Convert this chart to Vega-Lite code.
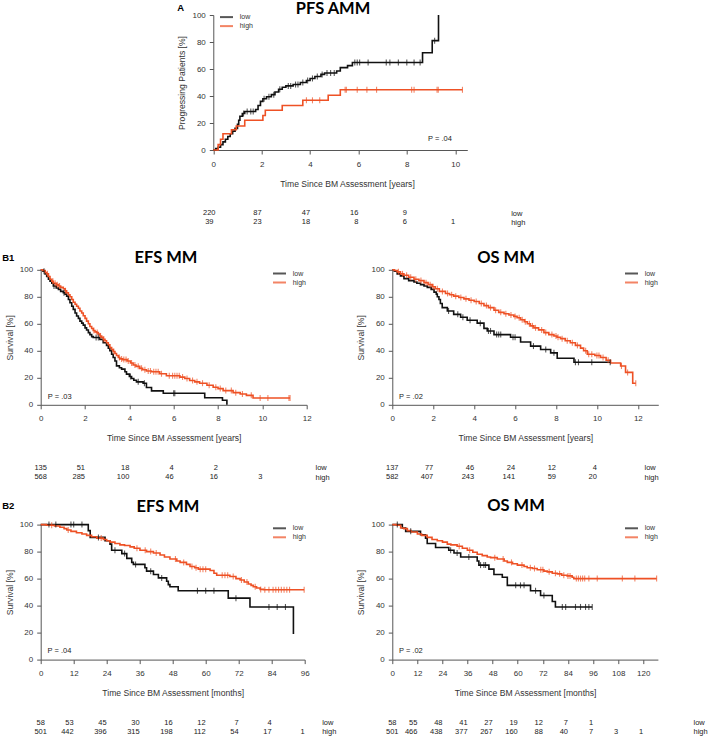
{
"$schema": "https://vega.github.io/schema/vega-lite/v6.json",
"background": "white",
"padding": {"left": 1.7, "top": 0, "right": 0, "bottom": 0},
"datasets": {
"a": [
{"g":"low","t":0,"s":0},{"g":"low","t":0.1,"s":1},{"g":"low","t":0.2,"s":2},{"g":"low","t":0.3,"s":4},{"g":"low","t":0.4,"s":6},{"g":"low","t":0.5,"s":8},{"g":"low","t":0.6,"s":10},{"g":"low","t":0.7,"s":12},{"g":"low","t":0.8,"s":14},{"g":"low","t":0.9,"s":16},{"g":"low","t":1.0,"s":19},{"g":"low","t":1.05,"s":22},{"g":"low","t":1.1,"s":25},{"g":"low","t":1.2,"s":27},{"g":"low","t":1.25,"s":27,"c":1},{"g":"low","t":1.3,"s":28.5},{"g":"low","t":1.4,"s":28.5,"c":1},{"g":"low","t":1.55,"s":28.5,"c":1},{"g":"low","t":1.65,"s":28.5,"c":1},{"g":"low","t":1.75,"s":30},{"g":"low","t":1.85,"s":33},{"g":"low","t":1.95,"s":36},{"g":"low","t":2.05,"s":38},{"g":"low","t":2.1,"s":38,"c":1},{"g":"low","t":2.2,"s":39.5},{"g":"low","t":2.3,"s":39.5,"c":1},{"g":"low","t":2.4,"s":41},{"g":"low","t":2.5,"s":41,"c":1},{"g":"low","t":2.55,"s":43},{"g":"low","t":2.7,"s":45},{"g":"low","t":2.75,"s":45,"c":1},{"g":"low","t":2.85,"s":46.5},{"g":"low","t":3.0,"s":47.5},{"g":"low","t":3.1,"s":47.5,"c":1},{"g":"low","t":3.2,"s":47.5,"c":1},{"g":"low","t":3.3,"s":48.5},{"g":"low","t":3.4,"s":48.5,"c":1},{"g":"low","t":3.5,"s":48.5,"c":1},{"g":"low","t":3.6,"s":50},{"g":"low","t":3.7,"s":50,"c":1},{"g":"low","t":3.85,"s":51.5},{"g":"low","t":3.9,"s":51.5,"c":1},{"g":"low","t":4.0,"s":53},{"g":"low","t":4.1,"s":53,"c":1},{"g":"low","t":4.2,"s":54.5},{"g":"low","t":4.3,"s":54.5,"c":1},{"g":"low","t":4.45,"s":56},{"g":"low","t":4.5,"s":56,"c":1},{"g":"low","t":4.6,"s":57},{"g":"low","t":4.7,"s":57,"c":1},{"g":"low","t":4.85,"s":57,"c":1},{"g":"low","t":5.0,"s":57,"c":1},{"g":"low","t":5.1,"s":58.5},{"g":"low","t":5.25,"s":61},{"g":"low","t":5.55,"s":62.5},{"g":"low","t":5.75,"s":64.8},{"g":"low","t":5.85,"s":64.8,"c":1},{"g":"low","t":5.95,"s":64.8,"c":1},{"g":"low","t":6.05,"s":64.8,"c":1},{"g":"low","t":6.4,"s":64.8,"c":1},{"g":"low","t":7.15,"s":64.8,"c":1},{"g":"low","t":7.3,"s":64.8,"c":1},{"g":"low","t":7.65,"s":64.8,"c":1},{"g":"low","t":8.0,"s":64.8,"c":1},{"g":"low","t":8.3,"s":64.8,"c":1},{"g":"low","t":8.55,"s":64.8,"c":1},{"g":"low","t":8.65,"s":72},{"g":"low","t":9.05,"s":81},{"g":"low","t":9.15,"s":81,"c":1},{"g":"low","t":9.31,"s":100},
{"g":"high","t":0,"s":0},{"g":"high","t":0.2,"s":4},{"g":"high","t":0.3,"s":8},{"g":"high","t":0.4,"s":12},{"g":"high","t":0.75,"s":15},{"g":"high","t":0.95,"s":17.8},{"g":"high","t":1.3,"s":22},{"g":"high","t":2.05,"s":25.6},{"g":"high","t":2.15,"s":29.5},{"g":"high","t":2.85,"s":33},{"g":"high","t":3.7,"s":36.8},{"g":"high","t":3.85,"s":36.8,"c":1},{"g":"high","t":4.1,"s":36.8,"c":1},{"g":"high","t":4.4,"s":36.8,"c":1},{"g":"high","t":4.75,"s":40.6},{"g":"high","t":5.25,"s":44.6},{"g":"high","t":5.45,"s":44.6,"c":1},{"g":"high","t":5.5,"s":44.6,"c":1},{"g":"high","t":5.95,"s":44.6,"c":1},{"g":"high","t":6.35,"s":44.6,"c":1},{"g":"high","t":6.75,"s":44.6,"c":1},{"g":"high","t":8.2,"s":44.6,"c":1},{"g":"high","t":8.3,"s":44.6,"c":1},{"g":"high","t":9.25,"s":44.6,"c":1},{"g":"high","t":9.3,"s":44.6,"c":1},{"g":"high","t":10.3,"s":44.6,"c":1}
],
"b1l": [
{"g":"low","t":0,"s":100},{"g":"low","t":0.1,"s":99},{"g":"low","t":0.15,"s":99,"c":1},{"g":"low","t":0.2,"s":97},{"g":"low","t":0.27,"s":95},{"g":"low","t":0.35,"s":93},{"g":"low","t":0.42,"s":91.6},{"g":"low","t":0.5,"s":90},{"g":"low","t":0.57,"s":88},{"g":"low","t":0.6,"s":88,"c":1},{"g":"low","t":0.7,"s":86.5},{"g":"low","t":0.8,"s":85.5},{"g":"low","t":0.9,"s":84},{"g":"low","t":1.02,"s":83},{"g":"low","t":1.05,"s":83,"c":1},{"g":"low","t":1.1,"s":82},{"g":"low","t":1.17,"s":80.5},{"g":"low","t":1.25,"s":78},{"g":"low","t":1.32,"s":75.6},{"g":"low","t":1.4,"s":73},{"g":"low","t":1.47,"s":70.7},{"g":"low","t":1.55,"s":68},{"g":"low","t":1.62,"s":65.8},{"g":"low","t":1.7,"s":64},{"g":"low","t":1.77,"s":62},{"g":"low","t":1.85,"s":60.5},{"g":"low","t":1.92,"s":59},{"g":"low","t":2.0,"s":57},{"g":"low","t":2.07,"s":55.4},{"g":"low","t":2.15,"s":53.5},{"g":"low","t":2.22,"s":52},{"g":"low","t":2.3,"s":50.5},{"g":"low","t":2.37,"s":49.8},{"g":"low","t":2.5,"s":49.8,"c":1},{"g":"low","t":2.6,"s":49.8,"c":1},{"g":"low","t":2.67,"s":48.5},{"g":"low","t":2.82,"s":46},{"g":"low","t":2.97,"s":44},{"g":"low","t":3.05,"s":42},{"g":"low","t":3.12,"s":40},{"g":"low","t":3.2,"s":37.5},{"g":"low","t":3.27,"s":35},{"g":"low","t":3.35,"s":32.5},{"g":"low","t":3.42,"s":28.8},{"g":"low","t":3.55,"s":27.5},{"g":"low","t":3.65,"s":26.4},{"g":"low","t":3.8,"s":24.5},{"g":"low","t":3.87,"s":22.7},{"g":"low","t":4.0,"s":21},{"g":"low","t":4.05,"s":21,"c":1},{"g":"low","t":4.1,"s":19.5},{"g":"low","t":4.2,"s":18.2},{"g":"low","t":4.32,"s":17},{"g":"low","t":4.4,"s":17,"c":1},{"g":"low","t":4.62,"s":16},{"g":"low","t":4.68,"s":16,"c":1},{"g":"low","t":4.77,"s":12.8},{"g":"low","t":5.0,"s":10.3},{"g":"low","t":5.53,"s":8.6},{"g":"low","t":6.0,"s":8.6,"c":1},{"g":"low","t":6.05,"s":8.6,"c":1},{"g":"low","t":7.4,"s":5.2},{"g":"low","t":8.2,"s":3.4},{"g":"low","t":8.4,"s":0},
{"g":"high","t":0,"s":100},{"g":"high","t":0.1,"s":99.5},{"g":"high","t":0.2,"s":98},{"g":"high","t":0.27,"s":97},{"g":"high","t":0.3,"s":97,"c":1},{"g":"high","t":0.35,"s":95},{"g":"high","t":0.42,"s":93},{"g":"high","t":0.5,"s":91.5},{"g":"high","t":0.55,"s":91.5,"c":1},{"g":"high","t":0.57,"s":90},{"g":"high","t":0.65,"s":90,"c":1},{"g":"high","t":0.7,"s":89},{"g":"high","t":0.75,"s":89,"c":1},{"g":"high","t":0.8,"s":88},{"g":"high","t":0.85,"s":88,"c":1},{"g":"high","t":0.9,"s":87},{"g":"high","t":1.02,"s":86},{"g":"high","t":1.1,"s":84.5},{"g":"high","t":1.12,"s":84.5,"c":1},{"g":"high","t":1.17,"s":83},{"g":"high","t":1.25,"s":81.5},{"g":"high","t":1.32,"s":80},{"g":"high","t":1.4,"s":78},{"g":"high","t":1.47,"s":76},{"g":"high","t":1.55,"s":74.5},{"g":"high","t":1.62,"s":73},{"g":"high","t":1.7,"s":71.5},{"g":"high","t":1.77,"s":69.5},{"g":"high","t":1.85,"s":68},{"g":"high","t":1.92,"s":66},{"g":"high","t":2.0,"s":64},{"g":"high","t":2.07,"s":62},{"g":"high","t":2.15,"s":60},{"g":"high","t":2.22,"s":58},{"g":"high","t":2.3,"s":56.5},{"g":"high","t":2.37,"s":55},{"g":"high","t":2.4,"s":55,"c":1},{"g":"high","t":2.45,"s":54},{"g":"high","t":2.52,"s":53.5},{"g":"high","t":2.55,"s":53.5,"c":1},{"g":"high","t":2.6,"s":52.5},{"g":"high","t":2.67,"s":51},{"g":"high","t":2.7,"s":51,"c":1},{"g":"high","t":2.75,"s":50},{"g":"high","t":2.82,"s":48.5},{"g":"high","t":2.85,"s":48.5,"c":1},{"g":"high","t":2.9,"s":47.5},{"g":"high","t":2.97,"s":46},{"g":"high","t":3.05,"s":44.5},{"g":"high","t":3.12,"s":42.5},{"g":"high","t":3.2,"s":41},{"g":"high","t":3.27,"s":39.5},{"g":"high","t":3.3,"s":39.5,"c":1},{"g":"high","t":3.35,"s":38},{"g":"high","t":3.42,"s":36.5},{"g":"high","t":3.5,"s":35},{"g":"high","t":3.55,"s":35,"c":1},{"g":"high","t":3.57,"s":34},{"g":"high","t":3.65,"s":34,"c":1},{"g":"high","t":3.7,"s":33.5},{"g":"high","t":3.75,"s":33.5,"c":1},{"g":"high","t":3.85,"s":33.5,"c":1},{"g":"high","t":3.9,"s":32.5},{"g":"high","t":3.95,"s":32.5,"c":1},{"g":"high","t":4.05,"s":31},{"g":"high","t":4.1,"s":31,"c":1},{"g":"high","t":4.17,"s":29.5},{"g":"high","t":4.25,"s":29.5,"c":1},{"g":"high","t":4.3,"s":28.5},{"g":"high","t":4.4,"s":28.5,"c":1},{"g":"high","t":4.47,"s":27},{"g":"high","t":4.55,"s":27,"c":1},{"g":"high","t":4.6,"s":26},{"g":"high","t":4.7,"s":26,"c":1},{"g":"high","t":4.77,"s":25},{"g":"high","t":4.85,"s":25,"c":1},{"g":"high","t":4.95,"s":25,"c":1},{"g":"high","t":5.0,"s":24.5},{"g":"high","t":5.1,"s":24.5,"c":1},{"g":"high","t":5.2,"s":24.5,"c":1},{"g":"high","t":5.3,"s":24.5,"c":1},{"g":"high","t":5.37,"s":23},{"g":"high","t":5.45,"s":23,"c":1},{"g":"high","t":5.67,"s":21.5},{"g":"high","t":5.8,"s":21.5,"c":1},{"g":"high","t":5.95,"s":21.5,"c":1},{"g":"high","t":6.05,"s":21.5,"c":1},{"g":"high","t":6.15,"s":21.5,"c":1},{"g":"high","t":6.25,"s":21.5,"c":1},{"g":"high","t":6.28,"s":20.5},{"g":"high","t":6.4,"s":20.5,"c":1},{"g":"high","t":6.5,"s":19.5},{"g":"high","t":6.6,"s":19.5,"c":1},{"g":"high","t":6.72,"s":18},{"g":"high","t":6.85,"s":18,"c":1},{"g":"high","t":6.95,"s":17},{"g":"high","t":7.05,"s":17,"c":1},{"g":"high","t":7.17,"s":16},{"g":"high","t":7.3,"s":16,"c":1},{"g":"high","t":7.5,"s":14.5},{"g":"high","t":7.6,"s":14.5,"c":1},{"g":"high","t":7.78,"s":13},{"g":"high","t":7.9,"s":13,"c":1},{"g":"high","t":8.0,"s":12},{"g":"high","t":8.1,"s":12,"c":1},{"g":"high","t":8.23,"s":10.5},{"g":"high","t":8.35,"s":10.5,"c":1},{"g":"high","t":8.6,"s":10.5,"c":1},{"g":"high","t":8.68,"s":9},{"g":"high","t":8.8,"s":9,"c":1},{"g":"high","t":9.0,"s":8},{"g":"high","t":9.1,"s":8,"c":1},{"g":"high","t":9.28,"s":7},{"g":"high","t":9.5,"s":7,"c":1},{"g":"high","t":9.58,"s":5},{"g":"high","t":9.9,"s":5,"c":1},{"g":"high","t":10.25,"s":5,"c":1},{"g":"high","t":11.2,"s":5,"c":1},{"g":"high","t":11.25,"s":5,"c":1}
],
"b1r": [
{"g":"low","t":0,"s":100},{"g":"low","t":0.1,"s":99},{"g":"low","t":0.24,"s":97},{"g":"low","t":0.4,"s":95.5},{"g":"low","t":0.57,"s":93.5},{"g":"low","t":0.8,"s":92},{"g":"low","t":1.06,"s":91},{"g":"low","t":1.2,"s":90},{"g":"low","t":1.38,"s":89},{"g":"low","t":1.55,"s":88},{"g":"low","t":1.71,"s":87},{"g":"low","t":1.9,"s":85.5},{"g":"low","t":2.04,"s":83.5},{"g":"low","t":2.15,"s":82},{"g":"low","t":2.2,"s":80},{"g":"low","t":2.28,"s":78},{"g":"low","t":2.35,"s":75},{"g":"low","t":2.44,"s":72},{"g":"low","t":2.69,"s":69.5},{"g":"low","t":2.75,"s":69.5,"c":1},{"g":"low","t":3.0,"s":67},{"g":"low","t":3.2,"s":67,"c":1},{"g":"low","t":3.34,"s":64.8},{"g":"low","t":3.45,"s":64.8,"c":1},{"g":"low","t":3.66,"s":62.6},{"g":"low","t":3.8,"s":62.6,"c":1},{"g":"low","t":4.15,"s":60.5},{"g":"low","t":4.3,"s":60.5,"c":1},{"g":"low","t":4.48,"s":56.6},{"g":"low","t":4.64,"s":54.7},{"g":"low","t":4.7,"s":54.7,"c":1},{"g":"low","t":4.8,"s":54.7,"c":1},{"g":"low","t":4.97,"s":52},{"g":"low","t":5.1,"s":52,"c":1},{"g":"low","t":5.2,"s":52,"c":1},{"g":"low","t":5.3,"s":52,"c":1},{"g":"low","t":5.78,"s":50},{"g":"low","t":5.9,"s":50,"c":1},{"g":"low","t":6.0,"s":50,"c":1},{"g":"low","t":6.27,"s":46.5},{"g":"low","t":6.76,"s":43.5},{"g":"low","t":6.9,"s":43.5,"c":1},{"g":"low","t":7.25,"s":41},{"g":"low","t":7.5,"s":41,"c":1},{"g":"low","t":7.74,"s":38.5},{"g":"low","t":7.9,"s":38.5,"c":1},{"g":"low","t":8.06,"s":34.5},{"g":"low","t":8.88,"s":31.5},{"g":"low","t":8.95,"s":31.5,"c":1},{"g":"low","t":9.1,"s":31.5,"c":1},{"g":"low","t":9.75,"s":31.5,"c":1},{"g":"low","t":10.65,"s":31.5,"c":1},
{"g":"high","t":0,"s":100},{"g":"high","t":0.1,"s":99.5},{"g":"high","t":0.24,"s":98.5},{"g":"high","t":0.3,"s":98.5,"c":1},{"g":"high","t":0.4,"s":97},{"g":"high","t":0.5,"s":97,"c":1},{"g":"high","t":0.57,"s":96},{"g":"high","t":0.7,"s":96,"c":1},{"g":"high","t":0.8,"s":94.5},{"g":"high","t":0.9,"s":94.5,"c":1},{"g":"high","t":1.06,"s":93},{"g":"high","t":1.15,"s":93,"c":1},{"g":"high","t":1.3,"s":92},{"g":"high","t":1.4,"s":92,"c":1},{"g":"high","t":1.55,"s":90.5},{"g":"high","t":1.65,"s":90.5,"c":1},{"g":"high","t":1.75,"s":89},{"g":"high","t":1.85,"s":89,"c":1},{"g":"high","t":1.95,"s":87.5},{"g":"high","t":2.0,"s":87.5,"c":1},{"g":"high","t":2.1,"s":86},{"g":"high","t":2.2,"s":86,"c":1},{"g":"high","t":2.3,"s":84},{"g":"high","t":2.45,"s":84,"c":1},{"g":"high","t":2.6,"s":82.5},{"g":"high","t":2.7,"s":82.5,"c":1},{"g":"high","t":2.8,"s":81.5},{"g":"high","t":2.9,"s":81.5,"c":1},{"g":"high","t":3.0,"s":80.5},{"g":"high","t":3.1,"s":80.5,"c":1},{"g":"high","t":3.25,"s":79.5},{"g":"high","t":3.35,"s":79.5,"c":1},{"g":"high","t":3.5,"s":78.5},{"g":"high","t":3.6,"s":78.5,"c":1},{"g":"high","t":3.75,"s":77.5},{"g":"high","t":3.85,"s":77.5,"c":1},{"g":"high","t":4.0,"s":76.5},{"g":"high","t":4.1,"s":76.5,"c":1},{"g":"high","t":4.25,"s":75},{"g":"high","t":4.35,"s":75,"c":1},{"g":"high","t":4.48,"s":73.5},{"g":"high","t":4.6,"s":73.5,"c":1},{"g":"high","t":4.7,"s":72},{"g":"high","t":4.8,"s":72,"c":1},{"g":"high","t":4.97,"s":70},{"g":"high","t":5.05,"s":70,"c":1},{"g":"high","t":5.2,"s":68.5},{"g":"high","t":5.3,"s":68.5,"c":1},{"g":"high","t":5.46,"s":67.5},{"g":"high","t":5.55,"s":67.5,"c":1},{"g":"high","t":5.7,"s":66.5},{"g":"high","t":5.8,"s":66.5,"c":1},{"g":"high","t":5.94,"s":65.5},{"g":"high","t":6.0,"s":65.5,"c":1},{"g":"high","t":6.1,"s":64.5},{"g":"high","t":6.2,"s":64.5,"c":1},{"g":"high","t":6.27,"s":63},{"g":"high","t":6.35,"s":63,"c":1},{"g":"high","t":6.45,"s":61.5},{"g":"high","t":6.5,"s":61.5,"c":1},{"g":"high","t":6.6,"s":60},{"g":"high","t":6.7,"s":60,"c":1},{"g":"high","t":6.75,"s":58.5},{"g":"high","t":6.85,"s":58.5,"c":1},{"g":"high","t":6.92,"s":57},{"g":"high","t":7.0,"s":57,"c":1},{"g":"high","t":7.15,"s":55.5},{"g":"high","t":7.3,"s":55.5,"c":1},{"g":"high","t":7.41,"s":53.5},{"g":"high","t":7.5,"s":53.5,"c":1},{"g":"high","t":7.65,"s":52},{"g":"high","t":7.8,"s":52,"c":1},{"g":"high","t":7.9,"s":51},{"g":"high","t":8.0,"s":51,"c":1},{"g":"high","t":8.05,"s":50},{"g":"high","t":8.1,"s":50,"c":1},{"g":"high","t":8.22,"s":49},{"g":"high","t":8.3,"s":49,"c":1},{"g":"high","t":8.45,"s":47.5},{"g":"high","t":8.55,"s":47.5,"c":1},{"g":"high","t":8.7,"s":46},{"g":"high","t":8.8,"s":46,"c":1},{"g":"high","t":8.95,"s":44},{"g":"high","t":9.05,"s":44,"c":1},{"g":"high","t":9.2,"s":42},{"g":"high","t":9.35,"s":40},{"g":"high","t":9.45,"s":40,"c":1},{"g":"high","t":9.53,"s":37.5},{"g":"high","t":9.6,"s":37.5,"c":1},{"g":"high","t":9.75,"s":37.5,"c":1},{"g":"high","t":9.9,"s":36.5},{"g":"high","t":10.0,"s":36.5,"c":1},{"g":"high","t":10.1,"s":36.5,"c":1},{"g":"high","t":10.18,"s":35},{"g":"high","t":10.3,"s":35,"c":1},{"g":"high","t":10.45,"s":33},{"g":"high","t":10.55,"s":33,"c":1},{"g":"high","t":10.67,"s":31},{"g":"high","t":11.16,"s":28.7},{"g":"high","t":11.2,"s":28.7,"c":1},{"g":"high","t":11.4,"s":24},{"g":"high","t":11.5,"s":24,"c":1},{"g":"high","t":11.75,"s":16},{"g":"high","t":11.9,"s":16,"c":1}
],
"b2l": [
{"g":"low","t":0,"s":100},{"g":"low","t":3,"s":100,"c":1},{"g":"low","t":5.5,"s":100,"c":1},{"g":"low","t":11,"s":100,"c":1},{"g":"low","t":12,"s":100,"c":1},{"g":"low","t":15,"s":100,"c":1},{"g":"low","t":17.3,"s":95.5},{"g":"low","t":18,"s":90.5},{"g":"low","t":21,"s":90.5,"c":1},{"g":"low","t":23.4,"s":88},{"g":"low","t":25.2,"s":85.5},{"g":"low","t":25.8,"s":81},{"g":"low","t":27,"s":81,"c":1},{"g":"low","t":29.5,"s":78.5},{"g":"low","t":30.5,"s":78.5,"c":1},{"g":"low","t":31.3,"s":75},{"g":"low","t":33.1,"s":72},{"g":"low","t":33.7,"s":70.5},{"g":"low","t":34.5,"s":70.5,"c":1},{"g":"low","t":37.9,"s":68},{"g":"low","t":38.5,"s":65.5},{"g":"low","t":40,"s":65.5,"c":1},{"g":"low","t":41,"s":63},{"g":"low","t":42.8,"s":60.5},{"g":"low","t":44,"s":60.5,"c":1},{"g":"low","t":45.8,"s":58},{"g":"low","t":46.4,"s":55.5},{"g":"low","t":47,"s":54},{"g":"low","t":50,"s":51},{"g":"low","t":57,"s":51,"c":1},{"g":"low","t":60,"s":51,"c":1},{"g":"low","t":63,"s":51,"c":1},{"g":"low","t":68.2,"s":45.5},{"g":"low","t":71,"s":45.5,"c":1},{"g":"low","t":76.1,"s":39},{"g":"low","t":83,"s":39,"c":1},{"g":"low","t":86,"s":39,"c":1},{"g":"low","t":89,"s":39,"c":1},{"g":"low","t":91.9,"s":19},
{"g":"high","t":0,"s":100},{"g":"high","t":2,"s":99.5},{"g":"high","t":4,"s":99.5,"c":1},{"g":"high","t":5,"s":99},{"g":"high","t":7,"s":98},{"g":"high","t":8.5,"s":97},{"g":"high","t":9.5,"s":96},{"g":"high","t":10,"s":96,"c":1},{"g":"high","t":11,"s":95},{"g":"high","t":13,"s":94},{"g":"high","t":15,"s":93},{"g":"high","t":16.7,"s":92},{"g":"high","t":18.5,"s":91},{"g":"high","t":20.4,"s":90},{"g":"high","t":22,"s":90,"c":1},{"g":"high","t":22.8,"s":89},{"g":"high","t":24,"s":88},{"g":"high","t":25.2,"s":87},{"g":"high","t":27,"s":86},{"g":"high","t":28.8,"s":85},{"g":"high","t":30.5,"s":84.5},{"g":"high","t":32.5,"s":83.5},{"g":"high","t":34,"s":82.5},{"g":"high","t":35,"s":82.5,"c":1},{"g":"high","t":36.1,"s":81},{"g":"high","t":38,"s":81,"c":1},{"g":"high","t":38.5,"s":80},{"g":"high","t":40,"s":80,"c":1},{"g":"high","t":41,"s":79},{"g":"high","t":42,"s":79,"c":1},{"g":"high","t":43.4,"s":77.5},{"g":"high","t":45,"s":76},{"g":"high","t":47,"s":74.5},{"g":"high","t":49,"s":74.5,"c":1},{"g":"high","t":49.5,"s":73},{"g":"high","t":50.7,"s":72},{"g":"high","t":52,"s":72,"c":1},{"g":"high","t":53,"s":70.5},{"g":"high","t":54.3,"s":69},{"g":"high","t":55,"s":69,"c":1},{"g":"high","t":56,"s":68},{"g":"high","t":56.5,"s":68,"c":1},{"g":"high","t":57.3,"s":67},{"g":"high","t":58,"s":67,"c":1},{"g":"high","t":59,"s":67,"c":1},{"g":"high","t":60,"s":67,"c":1},{"g":"high","t":61.6,"s":66},{"g":"high","t":63,"s":64},{"g":"high","t":64,"s":62.5},{"g":"high","t":66,"s":62.5,"c":1},{"g":"high","t":67,"s":62.5,"c":1},{"g":"high","t":68,"s":62.5,"c":1},{"g":"high","t":68.8,"s":61.5},{"g":"high","t":70,"s":61.5,"c":1},{"g":"high","t":71,"s":60},{"g":"high","t":72.5,"s":59},{"g":"high","t":73,"s":59,"c":1},{"g":"high","t":74,"s":57.5},{"g":"high","t":75,"s":57.5,"c":1},{"g":"high","t":75.5,"s":56},{"g":"high","t":76.5,"s":55},{"g":"high","t":77.3,"s":54},{"g":"high","t":78,"s":54,"c":1},{"g":"high","t":78.5,"s":53},{"g":"high","t":79.8,"s":52},{"g":"high","t":80,"s":52,"c":1},{"g":"high","t":81,"s":51.7},{"g":"high","t":81.5,"s":51.7,"c":1},{"g":"high","t":83,"s":51.7,"c":1},{"g":"high","t":84.5,"s":51.7,"c":1},{"g":"high","t":85.5,"s":51.7,"c":1},{"g":"high","t":86.5,"s":51.7,"c":1},{"g":"high","t":87.5,"s":51.7,"c":1},{"g":"high","t":88.5,"s":51.7,"c":1},{"g":"high","t":89.5,"s":51.7,"c":1},{"g":"high","t":90.5,"s":51.7,"c":1},{"g":"high","t":95.8,"s":51.7,"c":1}
],
"b2r": [
{"g":"low","t":0,"s":100},{"g":"low","t":2.4,"s":100,"c":1},{"g":"low","t":4.8,"s":97.5},{"g":"low","t":6.4,"s":95},{"g":"low","t":8.8,"s":95,"c":1},{"g":"low","t":13.5,"s":92.5},{"g":"low","t":15.9,"s":90},{"g":"low","t":16.7,"s":86},{"g":"low","t":20.7,"s":83},{"g":"low","t":27,"s":81},{"g":"low","t":27.9,"s":81,"c":1},{"g":"low","t":29.5,"s":79},{"g":"low","t":31,"s":79,"c":1},{"g":"low","t":32.7,"s":76},{"g":"low","t":36.6,"s":76,"c":1},{"g":"low","t":40.6,"s":73},{"g":"low","t":41.4,"s":70},{"g":"low","t":42.2,"s":70,"c":1},{"g":"low","t":43.8,"s":70,"c":1},{"g":"low","t":44.6,"s":70,"c":1},{"g":"low","t":46.2,"s":67},{"g":"low","t":48.6,"s":63},{"g":"low","t":52.6,"s":61},{"g":"low","t":55,"s":55},{"g":"low","t":59,"s":55,"c":1},{"g":"low","t":61.3,"s":55,"c":1},{"g":"low","t":63,"s":55,"c":1},{"g":"low","t":66.1,"s":51},{"g":"low","t":68.5,"s":51,"c":1},{"g":"low","t":70.9,"s":47.5},{"g":"low","t":72.5,"s":47.5,"c":1},{"g":"low","t":76.5,"s":43},{"g":"low","t":78,"s":39},{"g":"low","t":81.3,"s":39,"c":1},{"g":"low","t":82.9,"s":39,"c":1},{"g":"low","t":87.6,"s":39,"c":1},{"g":"low","t":90,"s":39,"c":1},{"g":"low","t":92.4,"s":39,"c":1},{"g":"low","t":94,"s":39,"c":1},{"g":"low","t":95.6,"s":39,"c":1},
{"g":"high","t":0,"s":100},{"g":"high","t":2,"s":99.5},{"g":"high","t":4,"s":97.5},{"g":"high","t":5.5,"s":97},{"g":"high","t":7.2,"s":95.5},{"g":"high","t":9,"s":94.5},{"g":"high","t":12,"s":93},{"g":"high","t":14,"s":92},{"g":"high","t":16.7,"s":90.5},{"g":"high","t":19,"s":89},{"g":"high","t":21.5,"s":88},{"g":"high","t":24,"s":87},{"g":"high","t":26.3,"s":85.5},{"g":"high","t":28,"s":85},{"g":"high","t":31,"s":84},{"g":"high","t":32,"s":84,"c":1},{"g":"high","t":33.5,"s":82.5},{"g":"high","t":35.9,"s":81},{"g":"high","t":37,"s":81,"c":1},{"g":"high","t":38.5,"s":79.5},{"g":"high","t":40.6,"s":78},{"g":"high","t":43,"s":77},{"g":"high","t":45.4,"s":76},{"g":"high","t":47,"s":75.5},{"g":"high","t":49,"s":75.5,"c":1},{"g":"high","t":50.2,"s":74.5},{"g":"high","t":53,"s":74.5,"c":1},{"g":"high","t":53.5,"s":73},{"g":"high","t":55,"s":72},{"g":"high","t":57,"s":72,"c":1},{"g":"high","t":57.5,"s":71},{"g":"high","t":59.8,"s":70},{"g":"high","t":62,"s":70,"c":1},{"g":"high","t":63,"s":69},{"g":"high","t":64.5,"s":68},{"g":"high","t":66,"s":68,"c":1},{"g":"high","t":67,"s":67.5},{"g":"high","t":68,"s":67.5,"c":1},{"g":"high","t":69.3,"s":66.5},{"g":"high","t":71,"s":66.5,"c":1},{"g":"high","t":72,"s":66.5,"c":1},{"g":"high","t":72.5,"s":65.5},{"g":"high","t":74.1,"s":65},{"g":"high","t":75,"s":65,"c":1},{"g":"high","t":76.5,"s":64},{"g":"high","t":78,"s":64,"c":1},{"g":"high","t":78.9,"s":63.5},{"g":"high","t":80,"s":63.5,"c":1},{"g":"high","t":81,"s":62.5},{"g":"high","t":82,"s":62.5,"c":1},{"g":"high","t":83.6,"s":62},{"g":"high","t":84,"s":62,"c":1},{"g":"high","t":85,"s":62,"c":1},{"g":"high","t":86,"s":61},{"g":"high","t":86.8,"s":60},{"g":"high","t":88,"s":60,"c":1},{"g":"high","t":89,"s":60,"c":1},{"g":"high","t":90,"s":60,"c":1},{"g":"high","t":91,"s":60,"c":1},{"g":"high","t":92,"s":60,"c":1},{"g":"high","t":94,"s":60,"c":1},{"g":"high","t":98,"s":60,"c":1},{"g":"high","t":110,"s":60,"c":1},{"g":"high","t":116,"s":60,"c":1},{"g":"high","t":126.4,"s":60,"c":1}
],
"ra": [{"g":"low","t":0,"n":"220"},{"g":"low","t":2,"n":"87"},{"g":"low","t":4,"n":"47"},{"g":"low","t":6,"n":"16"},{"g":"low","t":8,"n":"9"},{"g":"high","t":0,"n":"39"},{"g":"high","t":2,"n":"23"},{"g":"high","t":4,"n":"18"},{"g":"high","t":6,"n":"8"},{"g":"high","t":8,"n":"6"},{"g":"high","t":10,"n":"1"}],
"rb1l": [{"g":"low","t":0,"n":"135"},{"g":"low","t":2,"n":"51"},{"g":"low","t":4,"n":"18"},{"g":"low","t":6,"n":"4"},{"g":"low","t":8,"n":"2"},{"g":"high","t":0,"n":"568"},{"g":"high","t":2,"n":"285"},{"g":"high","t":4,"n":"100"},{"g":"high","t":6,"n":"46"},{"g":"high","t":8,"n":"16"},{"g":"high","t":10,"n":"3"}],
"rb1r": [{"g":"low","t":0,"n":"137"},{"g":"low","t":2,"n":"77"},{"g":"low","t":4,"n":"46"},{"g":"low","t":6,"n":"24"},{"g":"low","t":8,"n":"12"},{"g":"low","t":10,"n":"4"},{"g":"high","t":0,"n":"582"},{"g":"high","t":2,"n":"407"},{"g":"high","t":4,"n":"243"},{"g":"high","t":6,"n":"141"},{"g":"high","t":8,"n":"59"},{"g":"high","t":10,"n":"20"}],
"rb2l": [{"g":"low","t":0,"n":"58"},{"g":"low","t":12,"n":"53"},{"g":"low","t":24,"n":"45"},{"g":"low","t":36,"n":"30"},{"g":"low","t":48,"n":"16"},{"g":"low","t":60,"n":"12"},{"g":"low","t":72,"n":"7"},{"g":"low","t":84,"n":"4"},{"g":"high","t":0,"n":"501"},{"g":"high","t":12,"n":"442"},{"g":"high","t":24,"n":"396"},{"g":"high","t":36,"n":"315"},{"g":"high","t":48,"n":"198"},{"g":"high","t":60,"n":"112"},{"g":"high","t":72,"n":"54"},{"g":"high","t":84,"n":"17"},{"g":"high","t":96,"n":"1"}],
"rb2r": [{"g":"low","t":0,"n":"58"},{"g":"low","t":12,"n":"55"},{"g":"low","t":24,"n":"48"},{"g":"low","t":36,"n":"41"},{"g":"low","t":48,"n":"27"},{"g":"low","t":60,"n":"19"},{"g":"low","t":72,"n":"12"},{"g":"low","t":84,"n":"7"},{"g":"low","t":96,"n":"1"},{"g":"high","t":0,"n":"501"},{"g":"high","t":12,"n":"466"},{"g":"high","t":24,"n":"438"},{"g":"high","t":36,"n":"377"},{"g":"high","t":48,"n":"267"},{"g":"high","t":60,"n":"160"},{"g":"high","t":72,"n":"88"},{"g":"high","t":84,"n":"40"},{"g":"high","t":96,"n":"7"},{"g":"high","t":108,"n":"3"},{"g":"high","t":120,"n":"1"}]
},
"columns": 2,
"bounds": "flush",
"align": "none",
"spacing": {"row": 119.8, "column": 85.6},
"resolve": {"scale": {"color": "independent"}, "legend": {"color": "independent"}},
"concat": [
{
"width": 266, "height": 135,
"title": {"text": "PFS AMM", "anchor": "middle", "frame": "group", "dx": 159.3, "dy": 28, "offset": 0, "baseline": "alphabetic", "font": "Lato", "fontSize": 16.5, "fontWeight": "bold", "color": "#000"},
"resolve": {"scale": {"x": "independent", "y": "independent"}},
"layer": [
{
"encoding": {
"x": {"field": "t", "type": "quantitative", "scale": {"domain": [0, 10.5], "range": [172.6, 426.6], "nice": false, "zero": false}, "axis": {"values": [0, 2, 4, 6, 8, 10], "title": "Time Since BM Assessment [years]", "titleX": 306.3}},
"y": {"field": "s", "type": "quantitative", "scale": {"domain": [0, 100], "nice": false}, "axis": {"values": [0, 20, 40, 60, 80, 100], "title": "Progressing Patients [%]", "offset": -172.6}},
"color": {"field": "g", "type": "nominal", "scale": {"domain": ["low", "high"], "range": ["#111111", "#EE5125"]}, "legend": {"orient": "none", "legendX": 180.8, "legendY": -2.9, "title": null, "symbolType": "M-1.625,0H1.625", "symbolSize": 64, "symbolStrokeWidth": 2, "labelFontSize": 7, "labelOffset": 8.2, "rowPadding": -0.3, "padding": 0}}
},
"layer": [
{"data": {"name": "a"}, "mark": {"type": "line", "interpolate": "step-after", "strokeWidth": 1.6}},
{"data": {"name": "a"}, "transform": [{"filter": "datum.c == 1"}], "mark": {"type": "tick", "orient": "vertical", "size": 6, "thickness": 1.1}},
{"data": {"values": [{"t": 8.88, "s": 8, "label": "P = .04"}]}, "mark": {"type": "text", "align": "left", "baseline": "middle", "fontSize": 7.5}, "encoding": {"text": {"field": "label"}, "color": {"value": "#222"}}}
]
},
{
"data": {"name": "ra"},
"encoding": {
"x": {"field": "t", "type": "quantitative", "scale": {"domain": [0, 10.5], "range": [172.6, 426.6], "nice": false, "zero": false}, "axis": {"orient": "top", "labels": false, "ticks": false, "domain": false, "grid": false, "title": "A", "titleX": 136, "titleY": -4.7, "titleAlign": "left", "titleBaseline": "alphabetic", "titleAngle": 0, "titleFont": "Liberation Sans", "titleFontSize": 9.5, "titleFontWeight": "bold", "titleColor": "#000"}},
"y": {"field": "g", "type": "nominal", "scale": {"domain": ["low", "high"], "range": [198, 207.3], "padding": 0}, "axis": {"orient": "right", "title": null, "domain": false, "ticks": false, "labelPadding": 0, "offset": 204, "labelAlign": "left", "labelFontSize": 7.5, "labelColor": "#222"}},
"text": {"field": "n"}
},
"layer": [
{"transform": [{"filter": "datum.t == 0"}], "mark": {"type": "text", "align": "center", "baseline": "middle", "dx": -4, "fontSize": 7.5, "color": "#222"}},
{"transform": [{"filter": "datum.t > 0"}], "mark": {"type": "text", "align": "right", "baseline": "middle", "fontSize": 7.5, "color": "#222"}}
]
}
]
},
{"width": 10, "height": 135, "data": {"values": [{"k": 1}]}, "mark": {"type": "text", "text": ""}},
{
"width": 266, "height": 135,
"title": {"text": "EFS MM", "anchor": "middle", "frame": "group", "dx": -7.7, "dy": 27.2, "offset": 0, "baseline": "alphabetic", "font": "Lato", "fontSize": 16.5, "fontWeight": "bold", "color": "#000"},
"resolve": {"scale": {"x": "independent", "y": "independent"}},
"layer": [
{
"encoding": {
"x": {"field": "t", "type": "quantitative", "scale": {"domain": [0, 12], "nice": false, "zero": false}, "axis": {"values": [0, 2, 4, 6, 8, 10, 12], "title": "Time Since BM Assessment [years]"}},
"y": {"field": "s", "type": "quantitative", "scale": {"domain": [0, 100], "nice": false}, "axis": {"values": [0, 20, 40, 60, 80, 100], "title": "Survival [%]"}},
"color": {"field": "g", "type": "nominal", "scale": {"domain": ["low", "high"], "range": ["#111111", "#EE5125"]}, "legend": {"orient": "none", "legendX": 233.8, "legendY": -1.3, "title": null, "symbolType": "M-1.625,0H1.625", "symbolSize": 64, "symbolStrokeWidth": 2, "labelFontSize": 7, "labelOffset": 8.2, "rowPadding": -2, "padding": 0}}
},
"layer": [
{"data": {"name": "b1l"}, "mark": {"type": "line", "interpolate": "step-after", "strokeWidth": 1.6}},
{"data": {"name": "b1l"}, "transform": [{"filter": "datum.c == 1"}], "mark": {"type": "tick", "orient": "vertical", "size": 6, "thickness": 1.1}},
{"data": {"values": [{"t": 0.32, "s": 5.5, "label": "P = .03"}]}, "mark": {"type": "text", "align": "left", "baseline": "middle", "fontSize": 7.5}, "encoding": {"text": {"field": "label"}, "color": {"value": "#222"}}}
]
},
{
"data": {"name": "rb1l"},
"encoding": {
"x": {"field": "t", "type": "quantitative", "scale": {"domain": [0, 12], "nice": false, "zero": false}, "axis": {"orient": "top", "labels": false, "ticks": false, "domain": false, "grid": false, "title": "B1", "titleX": -39, "titleY": -9.6, "titleAlign": "left", "titleBaseline": "alphabetic", "titleAngle": 0, "titleFont": "Liberation Sans", "titleFontSize": 9.5, "titleFontWeight": "bold", "titleColor": "#000"}},
"y": {"field": "g", "type": "nominal", "scale": {"domain": ["low", "high"], "range": [198, 207.3], "padding": 0}, "axis": {"orient": "right", "title": null, "domain": false, "ticks": false, "labelPadding": 0, "offset": 8.3, "labelAlign": "left", "labelFontSize": 7.5, "labelColor": "#222"}},
"text": {"field": "n"}
},
"layer": [
{"transform": [{"filter": "datum.t == 0"}], "mark": {"type": "text", "align": "center", "baseline": "middle", "fontSize": 7.5, "color": "#222"}},
{"transform": [{"filter": "datum.t > 0"}], "mark": {"type": "text", "align": "right", "baseline": "middle", "fontSize": 7.5, "color": "#222"}}
]
}
]
},
{
"width": 266, "height": 135,
"title": {"text": "OS MM", "anchor": "middle", "frame": "group", "dx": -19.3, "dy": 14.1, "offset": 0, "baseline": "alphabetic", "font": "Lato", "fontSize": 16.5, "fontWeight": "bold", "color": "#000"},
"resolve": {"scale": {"x": "independent", "y": "independent"}},
"layer": [
{
"encoding": {
"x": {"field": "t", "type": "quantitative", "scale": {"domain": [0, 13], "nice": false, "zero": false}, "axis": {"values": [0, 2, 4, 6, 8, 10, 12], "title": "Time Since BM Assessment [years]"}},
"y": {"field": "s", "type": "quantitative", "scale": {"domain": [0, 100], "nice": false}, "axis": {"values": [0, 20, 40, 60, 80, 100], "title": "Survival [%]"}},
"color": {"field": "g", "type": "nominal", "scale": {"domain": ["low", "high"], "range": ["#111111", "#EE5125"]}, "legend": {"orient": "none", "legendX": 234.2, "legendY": -1.3, "title": null, "symbolType": "M-1.625,0H1.625", "symbolSize": 64, "symbolStrokeWidth": 2, "labelFontSize": 7, "labelOffset": 8.2, "rowPadding": -2, "padding": 0}}
},
"layer": [
{"data": {"name": "b1r"}, "mark": {"type": "line", "interpolate": "step-after", "strokeWidth": 1.6}},
{"data": {"name": "b1r"}, "transform": [{"filter": "datum.c == 1"}], "mark": {"type": "tick", "orient": "vertical", "size": 6, "thickness": 1.1}},
{"data": {"values": [{"t": 0.33, "s": 6, "label": "P = .02"}]}, "mark": {"type": "text", "align": "left", "baseline": "middle", "fontSize": 7.5}, "encoding": {"text": {"field": "label"}, "color": {"value": "#222"}}}
]
},
{
"data": {"name": "rb1r"},
"encoding": {
"x": {"field": "t", "type": "quantitative", "scale": {"domain": [0, 13], "nice": false, "zero": false}, "axis": null},
"y": {"field": "g", "type": "nominal", "scale": {"domain": ["low", "high"], "range": [198, 207.3], "padding": 0}, "axis": {"orient": "right", "title": null, "domain": false, "ticks": false, "labelPadding": 0, "offset": -14.3, "labelAlign": "left", "labelFontSize": 7.5, "labelColor": "#222"}},
"text": {"field": "n"}
},
"layer": [
{"transform": [{"filter": "datum.t == 0"}], "mark": {"type": "text", "align": "center", "baseline": "middle", "fontSize": 7.5, "color": "#222"}},
{"transform": [{"filter": "datum.t > 0"}], "mark": {"type": "text", "align": "right", "baseline": "middle", "fontSize": 7.5, "color": "#222"}}
]
}
]
},
{
"width": 264, "height": 135,
"title": {"text": "EFS MM", "anchor": "middle", "frame": "group", "dx": -4.7, "dy": 28, "offset": 0, "baseline": "alphabetic", "font": "Lato", "fontSize": 16.5, "fontWeight": "bold", "color": "#000"},
"resolve": {"scale": {"x": "independent", "y": "independent"}},
"layer": [
{
"encoding": {
"x": {"field": "t", "type": "quantitative", "scale": {"domain": [0, 96], "nice": false, "zero": false}, "axis": {"values": [0, 12, 24, 36, 48, 60, 72, 84, 96], "title": "Time Since BM Assessment [months]"}},
"y": {"field": "s", "type": "quantitative", "scale": {"domain": [0, 100], "nice": false}, "axis": {"values": [0, 20, 40, 60, 80, 100], "title": "Survival [%]"}},
"color": {"field": "g", "type": "nominal", "scale": {"domain": ["low", "high"], "range": ["#111111", "#EE5125"]}, "legend": {"orient": "none", "legendX": 233.8, "legendY": -1.3, "title": null, "symbolType": "M-1.625,0H1.625", "symbolSize": 64, "symbolStrokeWidth": 2, "labelFontSize": 7, "labelOffset": 8.2, "rowPadding": -2, "padding": 0}}
},
"layer": [
{"data": {"name": "b2l"}, "mark": {"type": "line", "interpolate": "step-after", "strokeWidth": 1.6}},
{"data": {"name": "b2l"}, "transform": [{"filter": "datum.c == 1"}], "mark": {"type": "tick", "orient": "vertical", "size": 6, "thickness": 1.1}},
{"data": {"values": [{"t": 2.5, "s": 6, "label": "P = .04"}]}, "mark": {"type": "text", "align": "left", "baseline": "middle", "fontSize": 7.5}, "encoding": {"text": {"field": "label"}, "color": {"value": "#222"}}}
]
},
{
"data": {"name": "rb2l"},
"encoding": {
"x": {"field": "t", "type": "quantitative", "scale": {"domain": [0, 96], "nice": false, "zero": false}, "axis": {"orient": "top", "labels": false, "ticks": false, "domain": false, "grid": false, "title": "B2", "titleX": -39, "titleY": -16, "titleAlign": "left", "titleBaseline": "alphabetic", "titleAngle": 0, "titleFont": "Liberation Sans", "titleFontSize": 9.5, "titleFontWeight": "bold", "titleColor": "#000"}},
"y": {"field": "g", "type": "nominal", "scale": {"domain": ["low", "high"], "range": [198, 207.3], "padding": 0}, "axis": {"orient": "right", "title": null, "domain": false, "ticks": false, "labelPadding": 0, "offset": 17, "labelAlign": "left", "labelFontSize": 7.5, "labelColor": "#222"}},
"text": {"field": "n"}
},
"layer": [
{"transform": [{"filter": "datum.t == 0"}], "mark": {"type": "text", "align": "center", "baseline": "middle", "fontSize": 7.5, "color": "#222"}},
{"transform": [{"filter": "datum.t > 0"}], "mark": {"type": "text", "align": "right", "baseline": "middle", "fontSize": 7.5, "color": "#222"}}
]
}
]
},
{
"width": 265.6, "height": 135,
"title": {"text": "OS MM", "anchor": "middle", "frame": "group", "dx": -9.1, "dy": 6.9, "offset": 0, "baseline": "alphabetic", "font": "Lato", "fontSize": 16.5, "fontWeight": "bold", "color": "#000"},
"resolve": {"scale": {"x": "independent", "y": "independent"}},
"layer": [
{
"encoding": {
"x": {"field": "t", "type": "quantitative", "scale": {"domain": [0, 127], "nice": false, "zero": false}, "axis": {"values": [0, 12, 24, 36, 48, 60, 72, 84, 96, 108, 120], "title": "Time Since BM Assessment [months]"}},
"y": {"field": "s", "type": "quantitative", "scale": {"domain": [0, 100], "nice": false}, "axis": {"values": [0, 20, 40, 60, 80, 100], "title": "Survival [%]"}},
"color": {"field": "g", "type": "nominal", "scale": {"domain": ["low", "high"], "range": ["#111111", "#EE5125"]}, "legend": {"orient": "none", "legendX": 234.2, "legendY": -1.3, "title": null, "symbolType": "M-1.625,0H1.625", "symbolSize": 64, "symbolStrokeWidth": 2, "labelFontSize": 7, "labelOffset": 8.2, "rowPadding": -2, "padding": 0}}
},
"layer": [
{"data": {"name": "b2r"}, "mark": {"type": "line", "interpolate": "step-after", "strokeWidth": 1.6}},
{"data": {"name": "b2r"}, "transform": [{"filter": "datum.c == 1"}], "mark": {"type": "tick", "orient": "vertical", "size": 6, "thickness": 1.1}},
{"data": {"values": [{"t": 3.2, "s": 6, "label": "P = .02"}]}, "mark": {"type": "text", "align": "left", "baseline": "middle", "fontSize": 7.5}, "encoding": {"text": {"field": "label"}, "color": {"value": "#222"}}}
]
},
{
"data": {"name": "rb2r"},
"encoding": {
"x": {"field": "t", "type": "quantitative", "scale": {"domain": [0, 127], "nice": false, "zero": false}, "axis": null},
"y": {"field": "g", "type": "nominal", "scale": {"domain": ["low", "high"], "range": [198, 207.3], "padding": 0}, "axis": {"orient": "right", "title": null, "domain": false, "ticks": false, "labelPadding": 0, "offset": 35.1, "labelAlign": "left", "labelFontSize": 7.5, "labelColor": "#222"}},
"text": {"field": "n"}
},
"layer": [
{"transform": [{"filter": "datum.t == 0"}], "mark": {"type": "text", "align": "center", "baseline": "middle", "fontSize": 7.5, "color": "#222"}},
{"transform": [{"filter": "datum.t > 0"}], "mark": {"type": "text", "align": "right", "baseline": "middle", "fontSize": 7.5, "color": "#222"}}
]
}
]
}
],
"config": {
"view": {"stroke": null},
"font": "Liberation Sans",
"axis": {"grid": false, "domainColor": "#555555", "tickColor": "#555555", "tickSize": 4, "labelFont": "Liberation Sans", "labelFontSize": 8, "labelColor": "#333333", "titleFont": "Liberation Sans", "titleFontSize": 8.6, "titleFontWeight": "normal", "titleColor": "#333333", "labelFlush": false, "labelOverlap": false},
"axisX": {"labelPadding": 6, "titlePadding": 11},
"axisY": {"labelPadding": 4, "titlePadding": 5},
"legend": {"labelFont": "Liberation Sans", "labelColor": "#333333"}
}
}
